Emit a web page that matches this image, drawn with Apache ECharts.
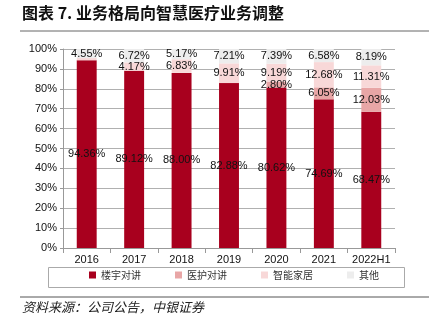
<!DOCTYPE html>
<html><head><meta charset="utf-8">
<script src="https://cdn.jsdelivr.net/npm/echarts@6/dist/echarts.min.js"></script>
<style>html,body{margin:0;padding:0;background:#fff}#c{width:429px;height:331px}</style>
</head><body><div id="c"></div>
<script>
var categories = ['2016','2017','2018','2019','2020','2021','2022H1'];
var building = [94.36, 89.12, 88.00, 82.88, 80.62, 74.69, 68.47];
var medical = [0, 0, 0, 0, 2.80, 6.05, 12.03];
var smartHome = [1.09, 4.17, 6.83, 9.91, 9.19, 12.68, 11.31];
var others = [4.55, 6.72, 5.17, 7.21, 7.39, 6.58, 8.19];
var yTicks = ['0%','10%','20%','30%','40%','50%','60%','70%','80%','90%','100%'];

var font = 'Liberation Sans, Arial, sans-serif';
var cjk = '"Noto Sans CJK SC", sans-serif';
function mk(name, data, color) {
  return {
    name: name, type: 'bar', stack: 's', data: data, barWidth: '42%',
    itemStyle: {color: color},
    label: {show: true, position: 'inside', color: '#111', fontSize: 11, fontFamily: font,
      formatter: function (p) { return p.value >= 2 ? p.value.toFixed(2) + '%' : ''; }}
  };
}
var chart = echarts.init(document.getElementById('c'));
chart.setOption({
  animation: false,
  grid: {left: 63, right: 34, top: 49, bottom: 83},
  legend: {
    bottom: 46, left: 84, itemWidth: 7, itemHeight: 7, itemGap: 34, icon: 'rect',
    textStyle: {fontFamily: cjk, fontSize: 10, color: '#333'},
    data: ['楼宇对讲','医护对讲','智能家居','其他']
  },
  xAxis: {
    type: 'category', data: categories,
    axisLine: {lineStyle: {color: '#999'}},
    axisTick: {show: true, lineStyle: {color: '#999'}},
    axisLabel: {color: '#111', fontSize: 11, fontFamily: font, margin: 6, interval: 0}
  },
  yAxis: {
    type: 'value', min: 0, max: 100, interval: 10,
    axisLine: {show: true, lineStyle: {color: '#999'}},
    axisTick: {show: true, length: 3, lineStyle: {color: '#999'}},
    axisLabel: {color: '#111', fontSize: 11, fontFamily: font, margin: 6,
      formatter: function (v) { return yTicks[Math.round(v / 10)]; }},
    splitLine: {lineStyle: {color: '#b0b0b0'}}
  },
  graphic: [
    {type: 'text', left: 22, top: 5, style: {text: '图表 7. 业务格局向智慧医疗业务调整', font: 'bold 16px "Noto Sans CJK SC", sans-serif', fill: '#111'}},
    {type: 'line', shape: {x1: 20, y1: 31, x2: 429, y2: 31}, style: {stroke: '#666', lineWidth: 1}},
    {type: 'rect', shape: {x: 48.5, y: 267.5, width: 356, height: 20}, style: {fill: 'none', stroke: '#aaa', lineWidth: 1}},
    {type: 'line', shape: {x1: 20, y1: 297, x2: 429, y2: 297}, style: {stroke: '#555', lineWidth: 1}},
    {type: 'text', left: 22, top: 301, style: {text: '资料来源：公司公告，中银证券', font: 'italic 13px "Noto Sans CJK SC", sans-serif', fill: '#222'}}
  ],
  series: [
    mk('楼宇对讲', building, '#A8001E'),
    mk('医护对讲', medical, '#E8A6A6'),
    mk('智能家居', smartHome, '#F8D8D8'),
    mk('其他', others, '#EDEDED')
  ]
});
</script></body></html>
